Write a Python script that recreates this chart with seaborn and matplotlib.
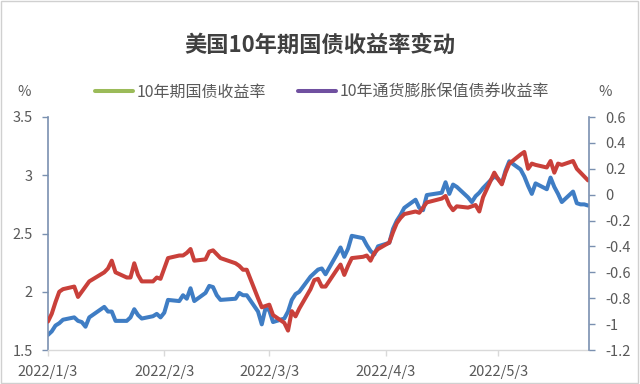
import matplotlib
matplotlib.use("Agg")
import matplotlib.pyplot as plt
from matplotlib.lines import Line2D
import pandas as pd
import seaborn as sns

# 交易日（美债市场）
dates = [
    "2022-01-03", "2022-01-04", "2022-01-05", "2022-01-06", "2022-01-07",
    "2022-01-10", "2022-01-11", "2022-01-12", "2022-01-13", "2022-01-14",
    "2022-01-18", "2022-01-19", "2022-01-20", "2022-01-21", "2022-01-24",
    "2022-01-25", "2022-01-26", "2022-01-27", "2022-01-28", "2022-01-31",
    "2022-02-01", "2022-02-02", "2022-02-03", "2022-02-04", "2022-02-07",
    "2022-02-08", "2022-02-09", "2022-02-10", "2022-02-11", "2022-02-14",
    "2022-02-15", "2022-02-16", "2022-02-17", "2022-02-18", "2022-02-22",
    "2022-02-23", "2022-02-24", "2022-02-25", "2022-02-28",
    "2022-03-01", "2022-03-02", "2022-03-03", "2022-03-04", "2022-03-07",
    "2022-03-08", "2022-03-09", "2022-03-10", "2022-03-11", "2022-03-14",
    "2022-03-15", "2022-03-16", "2022-03-17", "2022-03-18", "2022-03-21",
    "2022-03-22", "2022-03-23", "2022-03-24", "2022-03-25", "2022-03-28",
    "2022-03-29", "2022-03-30", "2022-03-31",
    "2022-04-01", "2022-04-04", "2022-04-05", "2022-04-06", "2022-04-07",
    "2022-04-08", "2022-04-11", "2022-04-12", "2022-04-13", "2022-04-14",
    "2022-04-18", "2022-04-19", "2022-04-20", "2022-04-21", "2022-04-22",
    "2022-04-25", "2022-04-26", "2022-04-27", "2022-04-28", "2022-04-29",
    "2022-05-02", "2022-05-03", "2022-05-04", "2022-05-05", "2022-05-06",
    "2022-05-09", "2022-05-10", "2022-05-11", "2022-05-12", "2022-05-13",
    "2022-05-16", "2022-05-17", "2022-05-18", "2022-05-19", "2022-05-20",
    "2022-05-23", "2022-05-24", "2022-05-25", "2022-05-26", "2022-05-27",
]

# 10年期国债收益率（左轴，%）
nominal_10y = [
    1.63, 1.66, 1.71, 1.73, 1.76, 1.78, 1.75, 1.74, 1.70, 1.78,
    1.87, 1.83, 1.83, 1.75, 1.75, 1.78, 1.85, 1.80, 1.77, 1.79,
    1.81, 1.78, 1.82, 1.93, 1.92, 1.97, 1.94, 2.03, 1.92, 1.99,
    2.05, 2.04, 1.97, 1.93, 1.94, 1.99, 1.97, 1.97, 1.83,
    1.72, 1.86, 1.84, 1.74, 1.77, 1.83, 1.93, 1.98, 2.00, 2.13,
    2.16, 2.19, 2.20, 2.15, 2.32, 2.38, 2.30, 2.37, 2.48, 2.46,
    2.40, 2.35, 2.32,
    2.39, 2.42, 2.54, 2.61, 2.66, 2.72, 2.79, 2.72, 2.70, 2.83,
    2.85, 2.94, 2.84, 2.92, 2.90, 2.81, 2.77, 2.82, 2.85, 2.89,
    2.99, 2.97, 2.93, 3.04, 3.12, 3.05, 2.99, 2.91, 2.84, 2.93,
    2.88, 2.98, 2.90, 2.84, 2.77, 2.86, 2.76, 2.75, 2.75, 2.74,
]

# 10年通货膨胀保值债券收益率（右轴，%）
tips_10y = [
    -0.98, -0.92, -0.83, -0.75, -0.73, -0.71, -0.79, -0.75, -0.71, -0.67,
    -0.60, -0.57, -0.51, -0.60, -0.64, -0.64, -0.53, -0.62, -0.67, -0.67,
    -0.64, -0.65, -0.57, -0.49, -0.47, -0.47, -0.45, -0.42, -0.51, -0.50,
    -0.44, -0.43, -0.46, -0.49, -0.53, -0.55, -0.58, -0.58, -0.80,
    -0.87, -0.86, -0.85, -0.93, -0.99, -1.05, -0.90, -0.94, -0.88, -0.73,
    -0.66, -0.65, -0.71, -0.71, -0.58, -0.54, -0.62, -0.55, -0.49, -0.48,
    -0.47, -0.51, -0.45,
    -0.42, -0.37, -0.29, -0.22, -0.18, -0.15, -0.13, -0.14, -0.10, -0.06,
    -0.03, -0.01, -0.08, -0.12, -0.09, -0.10, -0.09, -0.08, -0.13, -0.02,
    0.17, 0.12, 0.08, 0.17, 0.24, 0.31, 0.33, 0.20, 0.24, 0.23,
    0.21, 0.26, 0.17, 0.24, 0.23, 0.26, 0.20, 0.17, 0.14, 0.11,
]

tick_dates = ["2022-01-03", "2022-02-03", "2022-03-03", "2022-04-03", "2022-05-03"]
left_ticks = [1.5, 2, 2.5, 3, 3.5]
right_ticks = [-1.2, -1, -0.8, -0.6, -0.4, -0.2, 0, 0.2, 0.4, 0.6]

df = pd.DataFrame({
    "date": pd.to_datetime(dates),
    "nominal": nominal_10y,
    "tips": tips_10y,
})

sns.set_style("white")
plt.rcParams["font.family"] = ["Noto Sans CJK SC", "DejaVu Sans"]

text_gray = "#595959"
spine_blue = "#7a90b0"

fig = plt.figure(figsize=(6.4, 3.84), dpi=100)
ax = fig.add_axes([48 / 640, 1 - 350 / 384, (589 - 48) / 640, (350 - 117) / 384])
ax2 = ax.twinx()

sns.lineplot(data=df, x="date", y="nominal", ax=ax, color="#3f7dc4", linewidth=2.9)
sns.lineplot(data=df, x="date", y="tips", ax=ax2, color="#c9403a", linewidth=2.9)

ax.set_xlim(pd.Timestamp("2022-01-03"), pd.Timestamp("2022-05-27 06:00"))
ax.set_ylim(1.5, 3.5)
ax2.set_ylim(-1.2, 0.6)
ax.set_yticks(left_ticks)
ax.set_yticklabels([f"{v:g}" for v in left_ticks])
ax2.set_yticks(right_ticks)
ax2.set_yticklabels([f"{v:g}" for v in right_ticks])

ticks = pd.to_datetime(tick_dates)
ax.set_xticks(ticks)
ax.set_xticklabels([f"{d.year}/{d.month}/{d.day}" for d in ticks])

for a in (ax, ax2):
    a.set_xlabel("")
    a.set_ylabel("")
    a.grid(False)
    for s in a.spines.values():
        s.set_visible(False)

ax.spines["left"].set_visible(True)
ax.spines["left"].set_color(spine_blue)
ax.spines["left"].set_linewidth(1.2)
ax.spines["bottom"].set_visible(True)
ax.spines["bottom"].set_color("#d9d9d9")
ax.spines["bottom"].set_linewidth(1.0)
ax2.spines["right"].set_visible(True)
ax2.spines["right"].set_color(spine_blue)
ax2.spines["right"].set_linewidth(1.2)

ax.tick_params(axis="y", left=True, length=4, width=1, color=spine_blue,
               labelsize=10.5, labelcolor=text_gray, pad=7)
ax2.tick_params(axis="y", right=True, length=4, width=1, color=spine_blue,
                labelsize=10.5, labelcolor=text_gray, pad=8)
ax.tick_params(axis="x", bottom=True, length=4, width=1, color="#d9d9d9",
               labelsize=10.5, labelcolor=text_gray, pad=7)

fig.text(0.5, 1 - 45 / 384, "美国10年期国债收益率变动", ha="center", va="center",
         fontsize=16, fontweight="bold", color="#404040")

fig.text(24 / 640, 1 - 92 / 384, "%", ha="center", va="center", fontsize=10.5, color=text_gray)
fig.text(605 / 640, 1 - 92 / 384, "%", ha="center", va="center", fontsize=10.5, color=text_gray)

handles = [
    Line2D([], [], color="#9bbb59", linewidth=2.9),
    Line2D([], [], color="#7050a0", linewidth=2.9),
]
fig.legend(handles, ["10年期国债收益率", "10年通货膨胀保值债券收益率"],
           loc="center", bbox_to_anchor=(322 / 640, 1 - 92 / 384), ncol=2,
           frameon=False, fontsize=11.5, labelcolor=text_gray,
           handlelength=2.4, handletextpad=0.2, columnspacing=2.0)

fig.patches.append(plt.Rectangle((0.002, 0.003), 0.995, 0.994, transform=fig.transFigure,
                                 fill=False, edgecolor="#d0d0d0", linewidth=1.0))

fig.savefig("out.png", dpi=100)
